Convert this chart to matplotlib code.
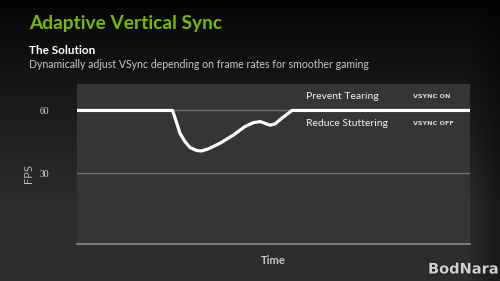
import numpy as np
import matplotlib
matplotlib.use('Agg')
import matplotlib.pyplot as plt
import matplotlib.patheffects as pe

# ==========================================
# 資料
# ==========================================
time_pts = [0, 24.3, 25.4, 26.2, 27.5, 28.8, 30.5, 31.7, 33.4, 36.4, 39.8,
            42.7, 44.9, 46.6, 47.8, 49.1, 50.4, 52.1, 53.8, 54.7, 100]
fps_pts  = [60, 60, 53.9, 49.1, 45.1, 42.3, 40.9, 40.7, 41.7, 44.4, 48.3,
            52.3, 54.2, 54.7, 53.9, 53.0, 53.6, 56.3, 58.7, 60, 60]
ytick_vals = [30, 60]
ytick_labels = ['30', '60']

TITLE    = 'Adaptive Vertical Sync'
SUBTITLE = 'The Solution'
DESC     = 'Dynamically adjust VSync depending on frame rates for smoother gaming'

W, H, DPI = 500, 281, 100
GREEN = '#76b900'
FONT = 'Lato'

fig = plt.figure(figsize=(W / DPI, H / DPI), dpi=DPI)

# ── 背景漸層 ──
bg = fig.add_axes([0, 0, 1, 1])
yy = np.linspace(0, 1, 200)[:, None]
xx = np.linspace(0, 1, 300)[None, :]
vert = 0.015 + 0.165 * np.clip(yy / 0.75, 0, 1) ** 0.9
horiz = 1 - 0.45 * np.clip((xx - 0.93) / 0.07, 0, 1)
img = vert * horiz
bg.imshow(np.dstack([img] * 3), aspect='auto', extent=[0, 1, 1, 0])
bg.set_xlim(0, 1); bg.set_ylim(1, 0)
bg.axis('off')

# ── 圖表區 ──
ax = fig.add_axes([77 / W, (H - 244) / H, 393 / W, 160 / H])
ax.set_facecolor('#353535')
ax.plot(time_pts, fps_pts, color='white', lw=2.3,
        solid_joinstyle='round', solid_capstyle='round', zorder=3)
ax.set_xlim(0, 100)
ax.set_ylim(-3.6, 72.6)
for v in ytick_vals:
    ax.axhline(v, color='#707070', lw=1.0, zorder=1)
for s in ['top', 'left', 'right']:
    ax.spines[s].set_visible(False)
ax.spines['bottom'].set_color('#8a8a8a')
ax.spines['bottom'].set_linewidth(1.2)
ax.set_xticks([])
ax.set_yticks(ytick_vals)
ax.set_yticklabels(ytick_labels, family='Liberation Serif', fontsize=7,
                   color='#d8d8d8')
ax.tick_params(axis='y', length=0, pad=20)
ax.set_ylabel('FPS', color='#bbbbbb', fontsize=8, family=FONT)
ax.yaxis.set_label_coords(-0.11, 0.44)

ax.text(0.583, 0.919, 'Prevent Tearing', transform=ax.transAxes,
        color='#f0f0f0', fontsize=7.5, va='center', family=FONT)
ax.text(0.583, 0.756, 'Reduce Stuttering', transform=ax.transAxes,
        color='#f0f0f0', fontsize=7.5, va='center', family=FONT)
ax.text(0.855, 0.919, 'VSYNC ON', transform=ax.transAxes,
        color='#d8d8d8', fontsize=4.6, va='center', family='DejaVu Sans',
        fontweight='bold')
ax.text(0.855, 0.756, 'VSYNC OFF', transform=ax.transAxes,
        color='#d8d8d8', fontsize=4.6, va='center', family='DejaVu Sans',
        fontweight='bold')

# ── 標題文字 ──
fig.text(29 / W, 1 - 24 / H, TITLE, color=GREEN, fontsize=13.8,
         fontweight='bold', va='center', family=FONT)
fig.text(29 / W, 1 - 50 / H, SUBTITLE, color='white', fontsize=8.5,
         fontweight='bold', va='center', family=FONT)
fig.text(29 / W, 1 - 65 / H, DESC, color='#c8c8c8', fontsize=7.6,
         va='center', family=FONT)
fig.text(273 / W, 1 - 261 / H, 'Time', color='#c8c8c8', fontsize=8,
         fontweight='bold', ha='center', va='center', family=FONT)

# ── 浮水印 ──
fig.text(499 / W, 1 - 269 / H, 'BodNara', color='#d0d0d0', fontsize=10.5,
         fontweight='bold', ha='right', va='center', family='DejaVu Sans',
         path_effects=[pe.withStroke(linewidth=1.5, foreground='#202020')])

fig.savefig('out.png', dpi=DPI)
